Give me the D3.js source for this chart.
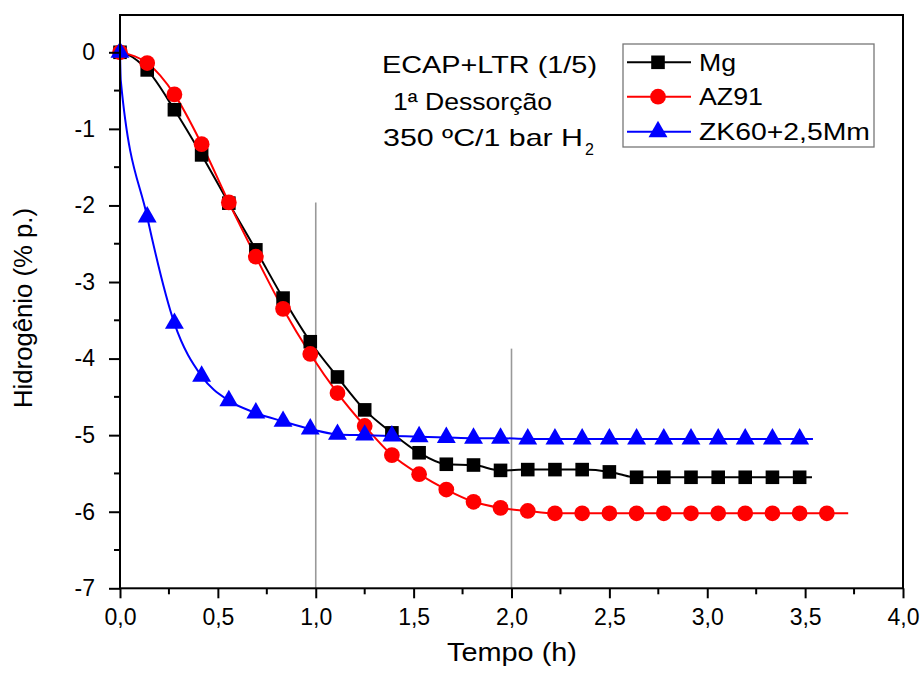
<!DOCTYPE html>
<html>
<head>
<meta charset="utf-8">
<script src="https://cdn.jsdelivr.net/npm/d3@7/dist/d3.min.js"></script>
<style>
  html, body { margin: 0; padding: 0; background: #fff; }
  svg { display: block; font-family: "Liberation Sans", Arial, sans-serif; }
</style>
</head>
<body>
<svg id="chart" width="921" height="691"></svg>
<script>
// ---------- data (time in h, hydrogen in wt.%) ----------
const markerTime = [0.000, 0.139, 0.278, 0.417, 0.556, 0.694, 0.833, 0.972, 1.111, 1.250,
                    1.389, 1.528, 1.667, 1.806, 1.944, 2.083, 2.222, 2.361, 2.500, 2.639,
                    2.778, 2.917, 3.056, 3.194, 3.333, 3.472, 3.611];

const mgValues   = [0, -0.23, -0.75, -1.34, -1.97, -2.58, -3.21, -3.78, -4.24, -4.67,
                    -4.97, -5.23, -5.38, -5.39, -5.46, -5.45, -5.45, -5.45, -5.48, -5.55,
                    -5.55, -5.55, -5.55, -5.55, -5.55, -5.55];
const az91Values = [0, -0.14, -0.55, -1.20, -1.96, -2.67, -3.35, -3.94, -4.45, -4.88,
                    -5.26, -5.51, -5.71, -5.87, -5.95, -5.99, -6.02, -6.02, -6.02, -6.02,
                    -6.02, -6.02, -6.02, -6.02, -6.02, -6.02, -6.02];
const zk60Values = [0, -2.15, -3.54, -4.23, -4.55, -4.71, -4.82, -4.92, -4.99, -5.00,
                    -5.01, -5.02, -5.03, -5.04, -5.04, -5.05, -5.05, -5.05, -5.05, -5.05,
                    -5.05, -5.05, -5.05, -5.05, -5.05, -5.05];

// extra trace points (between / after markers)
const mgExtraTime   = [0.04, 2.54, 2.57, 2.60, 3.535];
const mgExtraValues = [-0.03, -5.50, -5.52, -5.54, -5.55];
const az91ExtraTime   = [0.05, 3.72];
const az91ExtraValues = [-0.03, -6.02];
const zk60ExtraTime   = [0.004, 3.54];
const zk60ExtraValues = [-0.37, -5.05];

const seriesNames = ["Mg", "AZ91", "ZK60+2,5Mm"];
const seriesColors = ["#000000", "#ff0000", "#0000ff"];
const seriesSymbols = ["square", "circle", "triangle"];

const xTicks = [0, 0.5, 1.0, 1.5, 2.0, 2.5, 3.0, 3.5, 4.0];
const xTickLabels = ["0,0", "0,5", "1,0", "1,5", "2,0", "2,5", "3,0", "3,5", "4,0"];
const yTicks = [0, -1, -2, -3, -4, -5, -6, -7];
const yTickLabels = ["0", "-1", "-2", "-3", "-4", "-5", "-6", "-7"];

// reference lines: [time, top value]
const refLineTime = [1.0, 2.0];
const refLineTop = [-1.96, -3.87];

const annotationLines = ["ECAP+LTR (1/5)", "1ª Dessorção", "350 ºC/1 bar H"];

// ---------- layout ----------
const svg = d3.select("#chart");
const x = d3.scaleLinear().domain([0, 4]).range([120, 903]);
const y = d3.scaleLinear().domain([-7, 0]).range([588.3, 52.3]);
const yTop = 0.487;

function buildSeries(vals, extraT, extraV) {
  const pts = vals.map((v, i) => ({t: markerTime[i], v}));
  const extra = extraT.map((t, i) => ({t, v: extraV[i]}));
  return {markers: pts, trace: pts.concat(extra).sort((a, b) => a.t - b.t)};
}
const series = [
  buildSeries(mgValues, mgExtraTime, mgExtraValues),
  buildSeries(az91Values, az91ExtraTime, az91ExtraValues),
  buildSeries(zk60Values, zk60ExtraTime, zk60ExtraValues)
];

// reference gray lines
svg.append("g").selectAll("line").data(refLineTime).join("line")
  .attr("x1", d => x(d)).attr("x2", d => x(d))
  .attr("y1", (d, i) => y(refLineTop[i])).attr("y2", y(-7))
  .attr("stroke", "#999").attr("stroke-width", 1.6);

// lines
const line = d3.line().x(d => x(d.t)).y(d => y(d.v)).curve(d3.curveMonotoneX);
series.forEach((s, i) => {
  svg.append("path").datum(s.trace)
    .attr("d", line).attr("fill", "none")
    .attr("stroke", seriesColors[i]).attr("stroke-width", 2);
});

function symbolPath(kind) {
  if (kind === "square") return d3.symbol().type(d3.symbolSquare).size(185)();
  if (kind === "circle") return d3.symbol().type(d3.symbolCircle).size(195)();
  return d3.symbol().type(d3.symbolTriangle).size(155)();
}
series.forEach((s, i) => {
  svg.append("g").selectAll("path").data(s.markers).join("path")
    .attr("d", symbolPath(seriesSymbols[i]))
    .attr("transform", d => `translate(${x(d.t)},${y(d.v)})`)
    .attr("fill", seriesColors[i]);
});

// frame
svg.append("rect")
  .attr("x", x(0)).attr("y", y(yTop))
  .attr("width", x(4) - x(0)).attr("height", y(-7) - y(yTop))
  .attr("fill", "none").attr("stroke", "#000").attr("stroke-width", 2);

// axes
const xAxis = d3.axisBottom(x).tickValues(xTicks).tickSize(10)
  .tickFormat((d, i) => xTickLabels[i]).tickPadding(10);
const gx = svg.append("g").attr("transform", `translate(0,${y(-7)})`).call(xAxis);
gx.select(".domain").remove();
gx.selectAll(".tick line").attr("stroke-width", 2);
gx.selectAll(".tick text").attr("font-size", 23).attr("textLength", 32).attr("lengthAdjust", "spacingAndGlyphs")
  .attr("font-family", "Liberation Sans, Arial, sans-serif").attr("fill", "#000");
const xMinor = d3.range(0, 8).map(k => 0.25 + 0.5 * k);
svg.append("g").selectAll("line").data(xMinor).join("line")
  .attr("x1", d => x(d)).attr("x2", d => x(d))
  .attr("y1", y(-7)).attr("y2", y(-7) + 6)
  .attr("stroke", "#000").attr("stroke-width", 2);

const yAxis = d3.axisLeft(y).tickValues(yTicks).tickSize(11)
  .tickFormat((d, i) => yTickLabels[i]).tickPadding(14);
const gy = svg.append("g").attr("transform", `translate(${x(0)},0)`).call(yAxis);
gy.select(".domain").remove();
gy.selectAll(".tick line").attr("stroke-width", 2);
gy.selectAll(".tick text").attr("font-size", 23).attr("font-family", "Liberation Sans, Arial, sans-serif").attr("fill", "#000");
const yMinor = [-0.5, -1.5, -2.5, -3.5, -4.5, -5.5, -6.5];
svg.append("g").selectAll("line").data(yMinor).join("line")
  .attr("x1", x(0)).attr("x2", x(0) - 6)
  .attr("y1", d => y(d)).attr("y2", d => y(d))
  .attr("stroke", "#000").attr("stroke-width", 2);

// axis titles
svg.append("text").attr("x", 512).attr("y", 661).attr("text-anchor", "middle")
  .attr("font-size", 26).attr("textLength", 130).attr("lengthAdjust", "spacingAndGlyphs").text("Tempo (h)");
svg.append("text").attr("transform", "translate(32,308) rotate(-90)")
  .attr("text-anchor", "middle").attr("font-size", 25).attr("textLength", 200)
  .attr("lengthAdjust", "spacingAndGlyphs").text("Hidrogênio (% p.)");

// annotation
const annX = [382, 393, 383];
const annY = [73, 110, 146];
const annW = [215, 159, 200];
annotationLines.forEach((t, i) => {
  svg.append("text").attr("x", annX[i]).attr("y", annY[i])
    .attr("font-size", 24).attr("textLength", annW[i]).attr("lengthAdjust", "spacingAndGlyphs")
    .text(t);
});
svg.append("text").attr("x", 585).attr("y", 155).attr("font-size", 16).text("2");

// legend
const lg = svg.append("g");
lg.append("rect").attr("x", 623).attr("y", 44).attr("width", 251).attr("height", 103)
  .attr("fill", "#fff").attr("stroke", "#777").attr("stroke-width", 1.3);
const legY = [62.3, 96.7, 131.7];
const legW = [37, 64, 171];
seriesNames.forEach((n, i) => {
  lg.append("line").attr("x1", 627).attr("x2", 691).attr("y1", legY[i]).attr("y2", legY[i])
    .attr("stroke", seriesColors[i]).attr("stroke-width", 2);
  lg.append("path").attr("d", symbolPath(seriesSymbols[i]))
    .attr("transform", `translate(658,${legY[i]})`).attr("fill", seriesColors[i]);
  lg.append("text").attr("x", 699).attr("y", legY[i] + 8.5)
    .attr("font-size", 24).attr("textLength", legW[i]).attr("lengthAdjust", "spacingAndGlyphs")
    .text(n);
});
</script>
</body>
</html>
